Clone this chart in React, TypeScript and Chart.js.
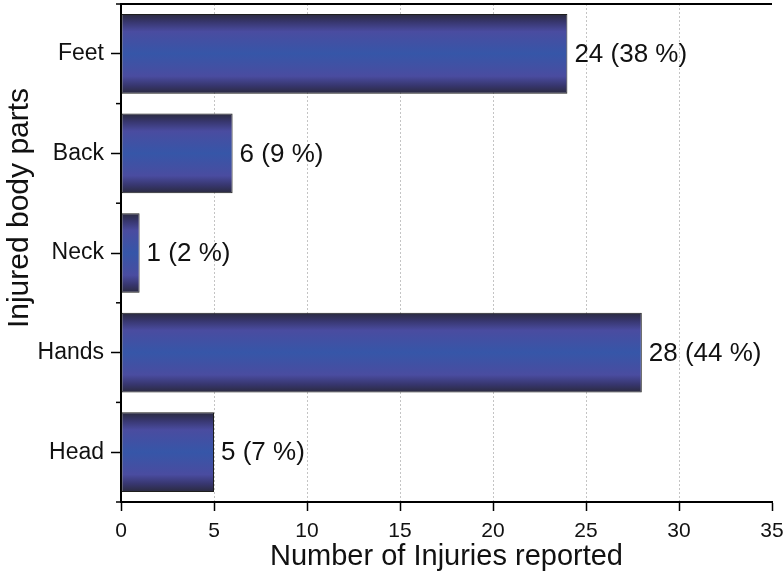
import React, { useEffect, useRef } from "react";
import { Chart, registerables } from "chart.js";

Chart.register(...registerables);

const categories = ["Feet", "Back", "Neck", "Hands", "Head"];
const injuries = [24, 6, 1, 28, 5];
const percents = [38, 9, 2, 44, 7];
const xTicks = [0, 5, 10, 15, 20, 25, 30, 35];
const xTitle = "Number of Injuries reported";
const yTitle = "Injured body parts";

const FONT = "'Liberation Sans', Arial, Helvetica, sans-serif";

function makeGradient(ctx: CanvasRenderingContext2D, y0: number, y1: number) {
  const g = ctx.createLinearGradient(0, y0, 0, y1);
  g.addColorStop(0, "#2a2a3e");
  g.addColorStop(0.1, "#37366e");
  g.addColorStop(0.22, "#4a4ca0");
  g.addColorStop(0.5, "#3656a8");
  g.addColorStop(0.78, "#4a4ca0");
  g.addColorStop(0.9, "#37366e");
  g.addColorStop(1, "#2a2a3e");
  return g;
}

const zeroPad = (s: any) => {
  s.paddingTop = 0;
  s.paddingBottom = 0;
  s.paddingLeft = 0;
  s.paddingRight = 0;
};

export default function App() {
  const ref = useRef<HTMLCanvasElement | null>(null);

  useEffect(() => {
    if (!ref.current) return;
    const BAR_PCT = 0.8;

    const extras = {
      id: "extras",
      beforeDatasetsDraw(chart: any) {
        const meta = chart.getDatasetMeta(0);
        meta.data.forEach((el: any) => {
          const y0 = el.y - el.height / 2;
          const y1 = el.y + el.height / 2;
          if (!isFinite(y0) || !isFinite(y1) || y1 === y0) return;
          el.options = Object.assign({}, el.options, {
            backgroundColor: makeGradient(chart.ctx, y0, y1),
          });
        });
      },
      afterDatasetsDraw(chart: any) {
        const ctx = chart.ctx;
        const meta = chart.getDatasetMeta(0);
        ctx.save();
        ctx.font = `26px ${FONT}`;
        ctx.fillStyle = "#111";
        ctx.textAlign = "left";
        ctx.textBaseline = "middle";
        meta.data.forEach((el: any, i: number) => {
          ctx.fillText(`${injuries[i]} (${percents[i]} %)`, el.x + 7, el.y + 1);
        });
        ctx.restore();
      },
      afterDraw(chart: any) {
        const ctx = chart.ctx;
        const { left, right, top, bottom } = chart.chartArea;
        ctx.save();
        ctx.strokeStyle = "#000";
        ctx.lineWidth = 2;
        ctx.beginPath();
        ctx.moveTo(left - 1, top);
        ctx.lineTo(right, top);
        ctx.stroke();
        ctx.lineWidth = 1.5;
        const n = categories.length;
        for (let i = 0; i <= n; i++) {
          const y = top + ((bottom - top) * i) / n;
          ctx.beginPath();
          ctx.moveTo(left - 5, y);
          ctx.lineTo(left, y);
          ctx.stroke();
        }
        // y axis title
        ctx.translate(20, 208);
        ctx.rotate(-Math.PI / 2);
        ctx.font = `30px ${FONT}`;
        ctx.fillStyle = "#111";
        ctx.textAlign = "center";
        ctx.textBaseline = "middle";
        ctx.fillText(yTitle, 0, 0);
        ctx.restore();
      },
    };

    const chart = new Chart(ref.current, {
      type: "bar",
      data: {
        labels: categories,
        datasets: [
          {
            data: injuries,
            backgroundColor: "#3a55a8",
            borderColor: "#1e1e1e",
            borderWidth: 1,
            borderSkipped: false,
            barPercentage: BAR_PCT,
            categoryPercentage: 1,
          },
        ],
      },
      options: {
        indexAxis: "y",
        responsive: false,
        animation: false,
        layout: { padding: { top: 4, right: 12, left: 0, bottom: 0 } },
        plugins: {
          legend: { display: false },
          tooltip: { enabled: false },
        },
        scales: {
          x: {
            type: "linear",
            min: 0,
            max: 35,
            afterBuildTicks: (s: any) => {
              s.ticks = xTicks.map((v) => ({ value: v }));
            },
            afterFit: (s: any) => {
              s.height = 69;
              zeroPad(s);
            },
            ticks: {
              color: "#111",
              font: { family: FONT, size: 21 },
              padding: 8,
              maxRotation: 0,
            },
            grid: {
              color: (c: any) =>
                c.tick && (c.tick.value === 0 || c.tick.value === 35) ? "rgba(0,0,0,0)" : "#c4c4c4",
              lineWidth: 1,
              tickColor: "#000",
              tickLength: 9,
              tickWidth: 1.5,
            },
            border: { display: true, color: "#000", width: 2, dash: [2, 2] },
            title: {
              display: true,
              text: xTitle,
              color: "#111",
              font: { family: FONT, size: 29, lineHeight: 1 },
              padding: { top: 0, bottom: 0 },
            },
          },
          y: {
            afterFit: (s: any) => {
              s.width = 121;
              zeroPad(s);
            },
            ticks: {
              color: "#111",
              font: { family: FONT, size: 23 },
              padding: 7,
            },
            grid: {
              drawOnChartArea: false,
              offset: false,
              tickColor: "#000",
              tickLength: 10,
              tickWidth: 1.5,
            },
            border: { display: true, color: "#000", width: 2 },
            title: { display: false },
          },
        },
      },
      plugins: [extras],
    } as any);

    return () => chart.destroy();
  }, []);

  return (
    <div style={{ position: "absolute", left: 0, top: 0, width: 784, height: 571, background: "#fff" }}>
      <canvas ref={ref} width={784} height={571} style={{ display: "block" }} />
    </div>
  );
}
